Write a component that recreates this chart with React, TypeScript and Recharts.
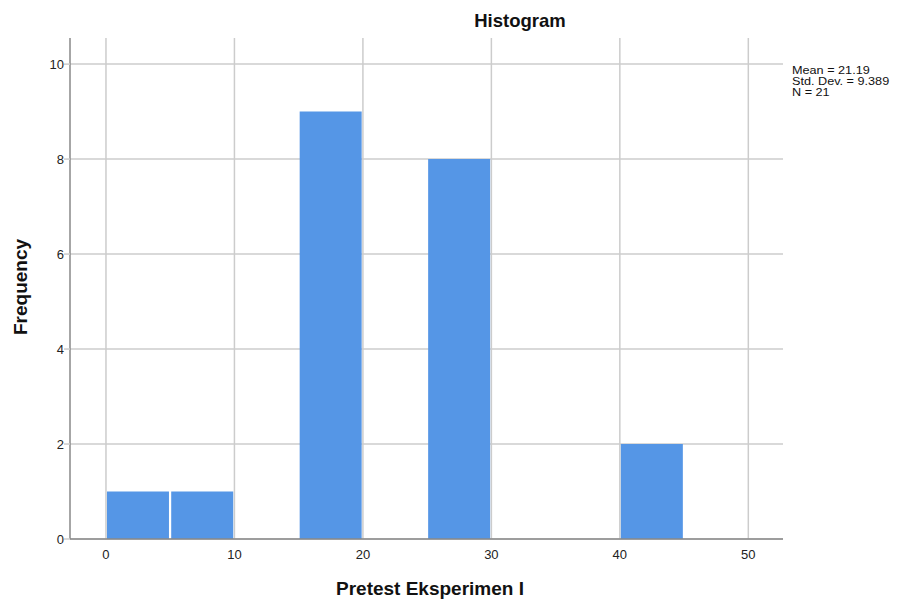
import React from 'react';
import { ComposedChart, Bar, XAxis, YAxis, CartesianGrid } from 'recharts';

// bin midpoints (bin width 5) and counts
const binCenters = [2.5, 7.5, 12.5, 17.5, 22.5, 27.5, 32.5, 37.5, 42.5, 47.5];
const frequencies = [1, 1, 0, 9, 0, 8, 0, 0, 2, 0];
const xTicks = [0, 10, 20, 30, 40, 50];
const yTicks = [0, 2, 4, 6, 8, 10];
const statsLines = ['Mean = 21.19', 'Std. Dev. = 9.389', 'N = 21'];

const data = binCenters.map((mid, i) => ({ mid, count: frequencies[i] }));

const FONT = 'Arial, "Liberation Sans", sans-serif';

export default function App() {
  return (
    <div style={{ position: 'absolute', left: 0, top: 0, width: 899, height: 604, background: '#fff', fontFamily: FONT }}>
      <ComposedChart
        width={899}
        height={604}
        data={data}
        margin={{ top: 38, right: 116, bottom: 0, left: 0 }}
      >
        <CartesianGrid stroke="#cccccc" strokeWidth={1.5} syncWithTicks />
        <XAxis
          dataKey="mid"
          type="number"
          domain={[-2.8, 52.7]}
          ticks={xTicks}
          allowDataOverflow
          height={65}
          tickLine={false}
          tickMargin={5}
          axisLine={{ stroke: '#888', strokeWidth: 1.5 }}
          tick={{ fill: '#222', fontSize: 13, fontFamily: FONT }}
        />
        <YAxis
          type="number"
          domain={[0, 10.55]}
          ticks={yTicks}
          allowDataOverflow
          width={70}
          tickSize={6}
          tickLine={{ stroke: '#cccccc', strokeWidth: 1.5 }}
          tickMargin={0}
          axisLine={{ stroke: '#888', strokeWidth: 1.5 }}
          tick={{ fill: '#222', fontSize: 13, fontFamily: FONT }}
        />
        <Bar dataKey="count" fill="#5596e6" barSize={62} isAnimationActive={false} />
      </ComposedChart>

      <div style={{ position: 'absolute', left: 0, width: 1040, top: 10, textAlign: 'center', fontSize: 18.5, fontWeight: 'bold', color: '#111' }}>
        Histogram
      </div>
      <div style={{ position: 'absolute', left: 0, width: 860, top: 578, textAlign: 'center', fontSize: 19, fontWeight: 'bold', color: '#111' }}>
        Pretest Eksperimen I
      </div>
      <div style={{ position: 'absolute', left: 21, top: 287, transform: 'translate(-50%, -50%) rotate(-90deg)', fontSize: 19, fontWeight: 'bold', color: '#111', whiteSpace: 'nowrap' }}>
        Frequency
      </div>
      <div style={{ position: 'absolute', left: 792, top: 65, fontSize: 11, lineHeight: '11px', color: '#111', transform: 'scaleX(1.15)', transformOrigin: 'left top', whiteSpace: 'nowrap' }}>
        {statsLines.map(s => <div key={s}>{s}</div>)}
      </div>
    </div>
  );
}
